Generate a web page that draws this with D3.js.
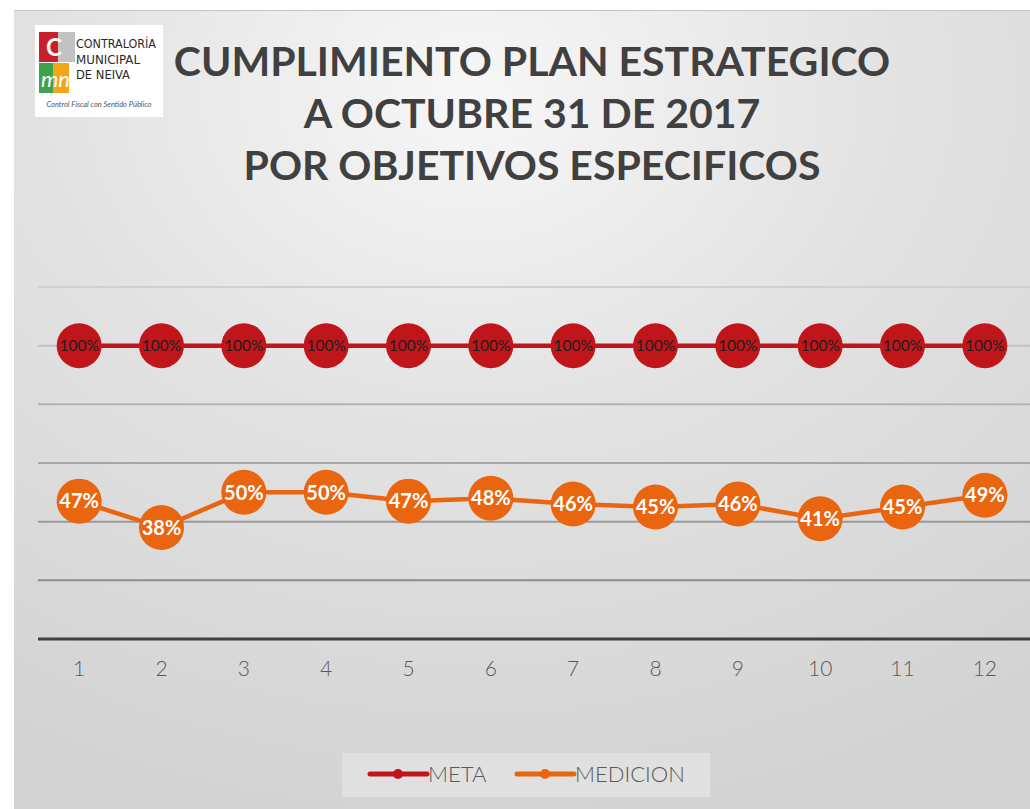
<!DOCTYPE html>
<html>
<head>
<meta charset="utf-8">
<script src="https://cdn.jsdelivr.net/npm/d3@7"></script>
<style>
  body { margin: 0; background: #fff; }
  svg { display: block; }
</style>
</head>
<body>
<div id="chart"></div>
<script>
// data
const categories = ["1", "2", "3", "4", "5", "6", "7", "8", "9", "10", "11", "12"];
const meta = [100, 100, 100, 100, 100, 100, 100, 100, 100, 100, 100, 100];
const medicion = [47, 38, 50, 50, 47, 48, 46, 45, 46, 41, 45, 49];
const yTicks = [0, 20, 40, 60, 80, 100, 120];
const titleLines = ["CUMPLIMIENTO PLAN ESTRATEGICO", "A OCTUBRE 31 DE 2017", "POR OBJETIVOS ESPECIFICOS"];

const W = 1030, H = 809;
const font = "'Lato', 'DejaVu Sans', sans-serif";

const svg = d3.select("#chart").append("svg")
  .attr("width", W).attr("height", H);

// background panel
const defs = svg.append("defs");
const bg = defs.append("radialGradient").attr("id", "bg")
  .attr("cx", "0.45").attr("cy", "0.1").attr("r", "0.95");
bg.append("stop").attr("offset", "0%").attr("stop-color", "#f7f7f7");
bg.append("stop").attr("offset", "45%").attr("stop-color", "#e2e2e2");
bg.append("stop").attr("offset", "100%").attr("stop-color", "#d2d2d2");

svg.append("rect").attr("x", 14).attr("y", 10).attr("width", W - 14).attr("height", H - 10)
  .attr("fill", "url(#bg)");
svg.append("line").attr("x1", 14).attr("x2", W).attr("y1", 10.5).attr("y2", 10.5)
  .attr("stroke", "#c4c4c4").attr("stroke-width", 1);

// scales
const x = d3.scaleBand().domain(categories).range([38, 1026]);
const y = d3.scaleLinear().domain([0, 120]).range([639, 287]);
const gridColor = d3.scaleLinear().domain([20, 120]).range(["#8c8c8c", "#d0d0d0"]);

// gridlines
svg.append("g").selectAll("line")
  .data(yTicks.filter(d => d > 0)).enter()
  .append("line")
  .attr("x1", 38).attr("x2", W)
  .attr("y1", d => y(d)).attr("y2", d => y(d))
  .attr("stroke", d => gridColor(d)).attr("stroke-width", 2);

// x axis
const xAxis = svg.append("g")
  .attr("transform", "translate(0," + y(0) + ")")
  .call(d3.axisBottom(x).tickSize(0).tickPadding(22));
xAxis.select(".domain").remove();
xAxis.append("line").attr("x1", 38).attr("x2", W)
  .attr("stroke", "#404040").attr("stroke-width", 3);
xAxis.selectAll("text")
  .attr("font-family", font).attr("font-size", 21).attr("font-weight", 300)
  .attr("fill", "#595959");

const cx = d => x(d) + x.bandwidth() / 2;

// lines
const line = d3.line().x((d, i) => cx(categories[i])).y(d => y(d));

function drawSeries(values, color, labelColor, labelSize, labelWeight) {
  const g = svg.append("g");
  g.append("path").datum(values)
    .attr("d", line)
    .attr("fill", "none").attr("stroke", color).attr("stroke-width", 4.5);
  g.selectAll("circle").data(values).enter()
    .append("circle")
    .attr("cx", (d, i) => cx(categories[i]))
    .attr("cy", d => y(d))
    .attr("r", 22.5)
    .attr("fill", color);
  g.selectAll("text").data(values).enter()
    .append("text")
    .attr("x", (d, i) => cx(categories[i]))
    .attr("y", d => y(d))
    .attr("dy", "0.36em")
    .attr("text-anchor", "middle")
    .attr("font-family", font).attr("font-size", labelSize).attr("font-weight", labelWeight)
    .attr("fill", labelColor)
    .text(d => d + "%");
}

drawSeries(meta, "#c0161b", "#1e1e1e", 15.5, 400);
drawSeries(medicion, "#ea6510", "#ffffff", 20, 700);

// title
svg.append("g").selectAll("text")
  .data(titleLines).enter()
  .append("text")
  .attr("x", 532)
  .attr("y", (d, i) => 76 + i * 52)
  .attr("text-anchor", "middle")
  .attr("font-family", font).attr("font-size", 41).attr("font-weight", 700)
  .attr("fill", "#404040")
  .text(d => d);

// logo
const logo = svg.append("g").attr("transform", "translate(35,25)");
logo.append("rect").attr("width", 128).attr("height", 92).attr("fill", "#ffffff");
logo.append("rect").attr("x", 4).attr("y", 7).attr("width", 19).attr("height", 30).attr("fill", "#c8202a");
logo.append("rect").attr("x", 23).attr("y", 7).attr("width", 17).attr("height", 30).attr("fill", "#9a9a9a").attr("opacity", 0.6);
logo.append("rect").attr("x", 4).attr("y", 38).attr("width", 14).attr("height", 30).attr("fill", "#3fa34d");
logo.append("rect").attr("x", 18).attr("y", 38).attr("width", 16).attr("height", 30).attr("fill", "#f2a71b");
logo.append("text").attr("x", 11).attr("y", 31).attr("font-family", font).attr("font-size", 24)
  .attr("font-weight", 700).attr("fill", "#ffffff").text("C");
logo.append("text").attr("x", 6).attr("y", 62).attr("font-family", font).attr("font-size", 22)
  .attr("font-style", "italic").attr("fill", "#ffffff").text("mn");
["CONTRALORÍA", "MUNICIPAL", "DE NEIVA"].forEach((t, i) => {
  logo.append("text").attr("x", 41).attr("y", 23 + i * 15.5)
    .attr("font-family", "'Liberation Sans Narrow', 'DejaVu Sans Condensed', sans-serif")
    .attr("font-size", 12.5).attr("fill", "#2a2a2a")
    .attr("textLength", i === 0 ? 80 : (i === 1 ? 64 : 54)).attr("lengthAdjust", "spacingAndGlyphs")
    .text(t);
});
logo.append("text").attr("x", 64).attr("y", 82).attr("text-anchor", "middle")
  .attr("font-family", font).attr("font-size", 7.5).attr("font-style", "italic")
  .attr("fill", "#555").text("Control Fiscal con Sentido Público");

// legend
const legend = svg.append("g");
legend.append("rect").attr("x", 342).attr("y", 753).attr("width", 368).attr("height", 44)
  .attr("fill", "#e0e0e0");
const legendItems = [
  { name: "META", color: "#c0161b", x: 370 },
  { name: "MEDICION", color: "#ea6510", x: 517 }
];
legendItems.forEach(it => {
  legend.append("line").attr("x1", it.x).attr("x2", it.x + 57)
    .attr("y1", 774).attr("y2", 774)
    .attr("stroke", it.color).attr("stroke-width", 5).attr("stroke-linecap", "round");
  legend.append("circle").attr("cx", it.x + 28).attr("cy", 774).attr("r", 5).attr("fill", it.color);
  legend.append("text").attr("x", it.x + 58).attr("y", 782)
    .attr("font-family", font).attr("font-size", 22).attr("font-weight", 300)
    .attr("fill", "#595959").text(it.name);
});
</script>
</body>
</html>
